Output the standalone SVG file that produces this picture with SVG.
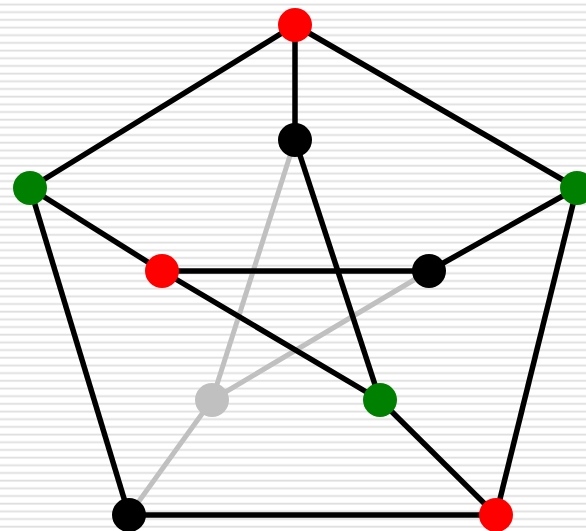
<svg xmlns="http://www.w3.org/2000/svg" width="586" height="531" viewBox="0 0 586 531">
  <defs>
    <pattern id="stripes" patternUnits="userSpaceOnUse" x="0" y="0" width="586" height="7.68">
      <rect x="0" y="3.6" width="586" height="1.1" fill="#d9d9d9"/>
      <rect x="0" y="4.7" width="586" height="1.1" fill="#ebebeb"/>
    </pattern>
    <style>
      .e { stroke: #000; stroke-width: 5.5; fill: none; stroke-linecap: butt; }
      .g { stroke: #c0c0c0; stroke-width: 5; fill: none; }
      .red { fill: #ff0000; }
      .green { fill: #008000; }
      .black { fill: #000000; }
      .gray { fill: #c0c0c0; }
    </style>
  </defs>
  <rect x="0" y="0" width="586" height="531" fill="#ffffff"/>
  <rect x="0" y="0" width="586" height="531" fill="url(#stripes)"/>
  <g id="connectors">
    <line class="g" x1="295" y1="140" x2="212" y2="400"/>
    <line class="g" x1="429" y1="271" x2="212" y2="400"/>
    <line class="g" x1="212" y1="400" x2="129" y2="515"/>
    <line class="e" x1="295" y1="25" x2="30" y2="188"/>
    <line class="e" x1="295" y1="25" x2="577" y2="188"/>
    <line class="e" x1="30" y1="188" x2="129" y2="515"/>
    <line class="e" x1="577" y1="188" x2="496" y2="515"/>
    <line class="e" x1="129" y1="515" x2="496" y2="515"/>
    <line class="e" x1="295" y1="25" x2="295" y2="140"/>
    <line class="e" x1="30" y1="188" x2="162" y2="271"/>
    <line class="e" x1="577" y1="188" x2="429" y2="271"/>
    <line class="e" x1="496" y1="515" x2="380" y2="400"/>
    <line class="e" x1="295" y1="140" x2="380" y2="400"/>
    <line class="e" x1="162" y1="271" x2="429" y2="271"/>
    <line class="e" x1="162" y1="271" x2="380" y2="400"/>
  </g>
  <g id="n-top"><circle class="red" cx="295" cy="25" r="17"/></g>
  <g id="n-inner-top"><circle class="black" cx="295" cy="140" r="17"/></g>
  <g id="n-left"><circle class="green" cx="30" cy="188" r="17"/></g>
  <g id="n-right"><circle class="green" cx="577" cy="188" r="17"/></g>
  <g id="n-inner-left"><circle class="red" cx="162" cy="271" r="17"/></g>
  <g id="n-inner-right"><circle class="black" cx="429" cy="271" r="17"/></g>
  <g id="n-inner-bl"><circle class="gray" cx="212" cy="400" r="17"/></g>
  <g id="n-inner-br"><circle class="green" cx="380" cy="400" r="17"/></g>
  <g id="n-bottom-left"><circle class="black" cx="129" cy="515" r="17"/></g>
  <g id="n-bottom-right"><circle class="red" cx="496" cy="515" r="17"/></g>
</svg>
